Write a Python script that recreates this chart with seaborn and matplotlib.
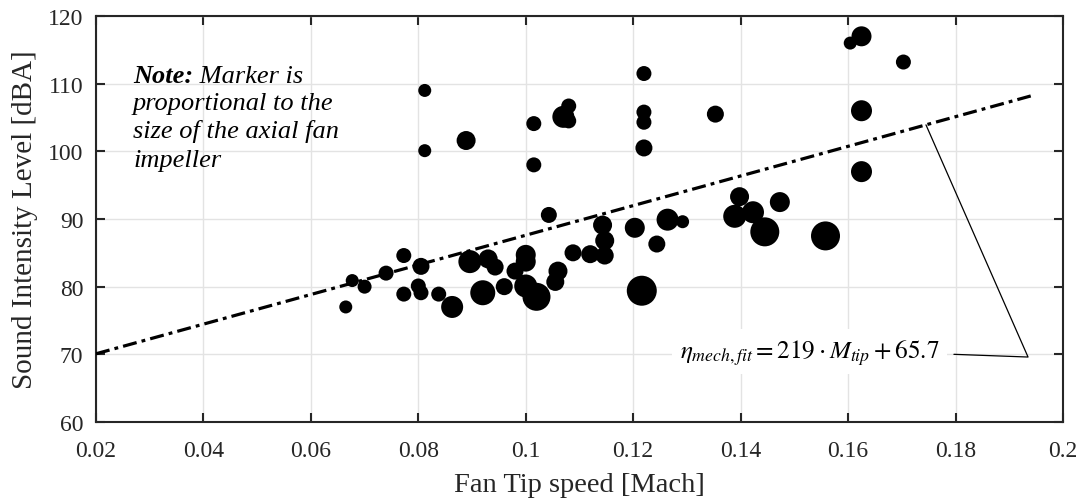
import numpy as np
import pandas as pd
import matplotlib
matplotlib.use("Agg")
import matplotlib.pyplot as plt
import seaborn as sns

# Measured fan data: tip Mach number, sound intensity level and impeller size
tip_mach = [
    0.0665, 0.0677, 0.0700, 0.0740, 0.0773, 0.0773, 0.0805, 0.0800, 0.0805, 0.0838,
    0.0863, 0.0896, 0.0930, 0.0943, 0.0920, 0.0960, 0.0980, 0.1000, 0.1000, 0.1000,
    0.1020, 0.1060, 0.1055, 0.1088, 0.1043, 0.1120, 0.1143, 0.1147, 0.1147, 0.1203,
    0.1216, 0.1244, 0.1264, 0.1292, 0.1398, 0.1389, 0.1423, 0.1445, 0.1473, 0.1558,
    0.0812, 0.0812, 0.0889, 0.1015, 0.1015, 0.1070, 0.1080, 0.1080, 0.1220, 0.1220,
    0.1220, 0.1220, 0.1353, 0.1604, 0.1625, 0.1703, 0.1625, 0.1625,
]
sound_level = [
    77.0, 80.9, 80.0, 82.0, 84.6, 78.9, 83.0, 80.1, 79.1, 78.9,
    77.0, 83.7, 84.1, 82.9, 79.1, 80.0, 82.3, 84.7, 83.7, 80.1,
    78.5, 82.3, 80.7, 85.0, 90.6, 84.8, 89.1, 86.8, 84.6, 88.7,
    79.4, 86.3, 89.9, 89.6, 93.3, 90.4, 91.0, 88.1, 92.5, 87.5,
    109.0, 100.1, 101.6, 104.1, 98.0, 105.1, 106.7, 104.5, 111.5, 105.8,
    104.3, 100.5, 105.5, 116.0, 117.0, 113.2, 106.0, 97.0,
]
impeller_size = [
    13, 13, 14, 15, 15, 15, 17, 15, 15, 15,
    22, 23, 19, 17, 25, 17, 17, 20, 20, 23,
    28, 19, 18, 17, 16, 18, 19, 19, 18, 20,
    30, 17, 22, 13, 19, 23, 22, 29, 20, 29,
    13, 13, 19, 15, 15, 22, 15, 15, 15, 15,
    15, 17, 17, 13, 20, 15, 21, 21,
]

# Linear fit of sound level against tip Mach number
fit_slope = 219.0
fit_intercept = 65.7
fit_range = [0.02, 0.194]

x_ticks = [0.02, 0.04, 0.06, 0.08, 0.1, 0.12, 0.14, 0.16, 0.18, 0.2]
x_tick_labels = ["0.02", "0.04", "0.06", "0.08", "0.1", "0.12", "0.14", "0.16", "0.18", "0.2"]
y_ticks = [60, 70, 80, 90, 100, 110, 120]

sns.set_theme(style="whitegrid")
plt.rcParams["font.family"] = ["Liberation Serif", "DejaVu Serif"]
plt.rcParams["mathtext.fontset"] = "stix"

df = pd.DataFrame({"mach": tip_mach, "spl": sound_level, "size": impeller_size})
# marker diameter proportional to impeller size -> area proportional to size^2
df["area"] = df["size"].astype(float) ** 2
scale = 0.72 ** 2
amin, amax = df["area"].min(), df["area"].max()

fig = plt.figure(figsize=(10.82, 5.02), dpi=100)
ax = fig.add_axes([0.0887, 0.1574, 0.8937, 0.8087])

sns.scatterplot(data=df, x="mach", y="spl", size="area",
                sizes=(amin * scale, amax * scale), size_norm=(amin, amax),
                color="black", edgecolor="none", linewidth=0,
                legend=False, ax=ax, zorder=3)

fit_x = np.array(fit_range)
fit_y = fit_slope * fit_x + fit_intercept
sns.lineplot(x=fit_x, y=fit_y, color="black", lw=2.3, ax=ax, zorder=4,
             dashes=False)
ax.lines[-1].set_dashes((4.4, 1.6, 1.2, 1.6))

ax.set_xlim(0.02, 0.2)
ax.set_ylim(60, 120)
ax.set_xticks(x_ticks)
ax.set_xticklabels(x_tick_labels)
ax.set_yticks(y_ticks)

ax.grid(True, color="#e3e3e3", lw=1.0)
for sp in ax.spines.values():
    sp.set_color("#262626")
    sp.set_linewidth(1.5)
ax.tick_params(direction="in", length=6.5, width=1.5, color="#262626",
               labelsize=17, labelcolor="#262626", top=True, right=True,
               bottom=True, left=True)
ax.tick_params(axis="x", pad=13)
ax.tick_params(axis="y", pad=9)

ax.set_xlabel("Fan Tip speed [Mach]", fontsize=20.5, color="#262626", labelpad=8)
ax.set_ylabel("Sound Intensity Level [dBA]", fontsize=21, color="#262626", labelpad=7)

# note on marker size
note_kw = dict(fontsize=19, color="black", style="italic")
t1 = ax.text(0.0269, 110.25, "Note:", fontweight="bold", va="baseline", **note_kw)
ax.annotate(" Marker is", xy=(1, 0), xycoords=t1, va="bottom", ha="left", **note_kw)
for yb, line in zip([106.2, 102.1, 97.9],
                    ["proportional to the", "size of the axial fan", "impeller"]):
    ax.text(0.0269, yb, line, va="baseline", **note_kw)

# fit equation label with leader line
ax.text(0.1528, 70.4, r"$\eta_{mech,fit} = 219 \cdot M_{tip} + 65.7$",
        fontsize=18.2, ha="center", va="center", color="black", zorder=5,
        bbox=dict(boxstyle="square,pad=0.3", fc="white", ec="none"))
anchor_x = 0.1745
leader_x = [0.1797, 0.1935, anchor_x]
leader_y = [70.0, 69.6, fit_slope * anchor_x + fit_intercept]
ax.plot(leader_x, leader_y, color="black", lw=0.9, zorder=5)

fig.savefig("out.png", dpi=100)
